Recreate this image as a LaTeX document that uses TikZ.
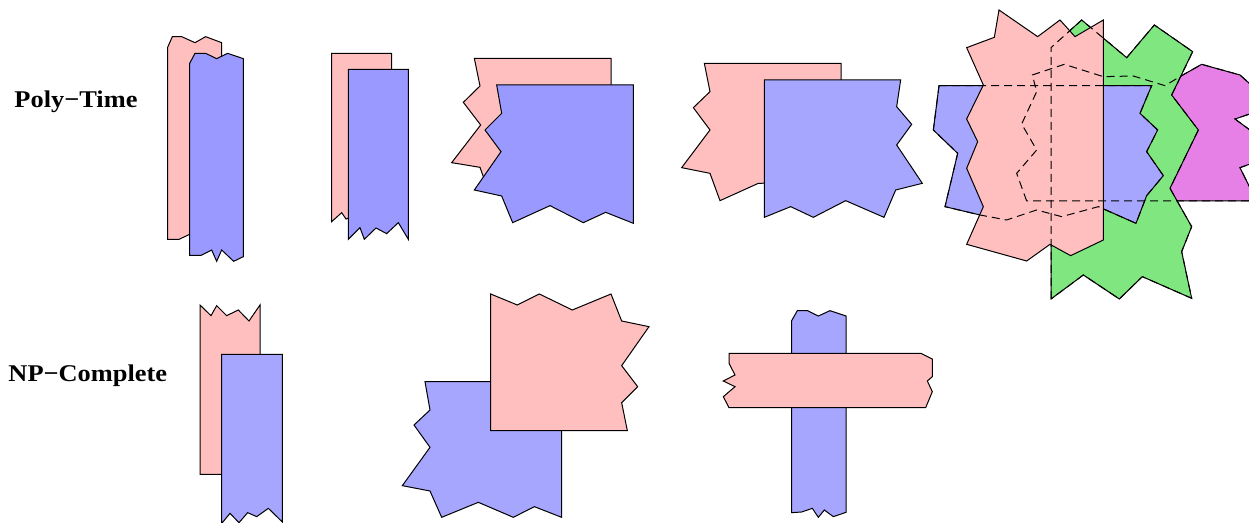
\documentclass[tikz,border=0pt]{standalone}
\usepackage{fontspec}
\setmainfont{Liberation Serif}
\definecolor{pinkc}{RGB}{255,191,191}
\definecolor{blueA}{RGB}{153,153,255}
\definecolor{blueB}{RGB}{166,166,255}
\definecolor{greenc}{RGB}{128,230,128}
\definecolor{magc}{RGB}{230,128,230}
\begin{document}
\begin{tikzpicture}[x=0.5pt,y=-0.5pt,
  shp/.style={draw=black,line width=0.5pt,line join=miter},
  pinkshape/.style={shp,fill=pinkc},
  blueshape/.style={shp,fill=blueA},
  blueshapeb/.style={shp,fill=blueB},
  greenshape/.style={shp,fill=greenc},
  magshape/.style={shp,fill=magc},
  hidden/.style={draw=black,line width=0.5pt,dash pattern=on 4pt off 2.5pt},
  lbl/.style={font=\bfseries\fontsize{12pt}{14pt}\selectfont,inner sep=0pt,anchor=west,xscale=1.1}]
\useasboundingbox (0,0) rectangle (1249,523);
\clip (0,0) rectangle (1249,523);
% labels
\node[lbl] (poly) at (14,102) {Poly−Time};
\node[lbl] (npc) at (8,376) {NP−Complete};
% row 1, group 1
\begin{scope}[shift={(155,30)},scale=1/3]
\draw[pinkshape] (38,52)--(52,20)--(80,20)--(120,38)--(152,20)--(200,38)--(200,600)--(102,614)--(72,628)--(38,628)--cycle;
\draw[blueshape] (104,100)--(120,70)--(152,70)--(185,86)--(218,70)--(265,86)--(265,680)--(236,694)--(200,660)--(185,694)--(170,660)--(138,676)--(104,676)--cycle;
\end{scope}
% row 1, group 2
\begin{scope}[shift={(320,45)},scale=1/3]
\draw[pinkshape] (35,25)--(215,25)--(215,518)--(90,518)--(78,522)--(65,503)--(35,530)--cycle;
\draw[blueshape] (85,73)--(265,73)--(265,583)--(235,533)--(200,566)--(168,549)--(133,583)--(120,548)--(85,583)--cycle;
\end{scope}
% row 1, group 3
\begin{scope}[shift={(440,50)},scale=1/3]
\draw[pinkshape] (103,25)--(513,25)--(513,400)--(140,400)--(130,380)--(120,352)--(35,338)--(122,225)--(70,157)--(120,108)--cycle;
\draw[blueshape] (170,105)--(580,105)--(580,520)--(497,487)--(430,518)--(330,467)--(218,518)--(185,438)--(103,420)--(183,305)--(135,240)--(185,190)--cycle;
\end{scope}
% row 1, group 4
\begin{scope}[shift={(670,55)},scale=1/3]
\draw[pinkshape] (103,25)--(513,25)--(513,380)--(265,385)--(150,437)--(120,355)--(35,338)--(120,225)--(70,158)--(120,110)--cycle;
\draw[blueshapeb] (283,75)--(692,75)--(680,155)--(725,208)--(680,270)--(757,385)--(677,405)--(642,487)--(527,437)--(430,487)--(362,455)--(283,487)--cycle;
\end{scope}
% row 1, group 5
\begin{scope}[shift={(925,5)},scale=1/3]
\def\magpath{(305,588)--(275,505)--(335,435)--(290,357)--(335,260)--(322,210)--(418,178)--(535,215)--(625,213)--(720,242)--(770,212)--(830,178)--(945,210)--(995,255)--(995,320)--(930,342)--(995,390)--(995,470)--(945,488)--(995,588)--cycle}
\def\greenpath{(378,882)--(378,128)--(470,45)--(605,158)--(688,60)--(803,140)--(740,270)--(820,375)--(735,550)--(800,665)--(770,740)--(800,880)--(652,815)--(583,882)--(475,810)--cycle}
\def\bluepath{(42,242)--(680,242)--(645,325)--(698,375)--(665,440)--(715,512)--(665,572)--(633,655)--(520,605)--(410,635)--(335,615)--(245,645)--(165,630)--(60,605)--(98,445)--(25,375)--cycle}
\draw[magshape] \magpath;
\draw[greenshape] \greenpath;
\draw[blueshapeb] \bluepath;
\draw[pinkshape] (222,15)--(338,95)--(405,45)--(450,95)--(535,45)--(535,705)--(437,752)--(375,718)--(305,768)--(125,718)--(175,605)--(125,490)--(158,410)--(125,342)--(175,240)--(125,128)--(208,97)--cycle;
\draw[hidden] \magpath;
\draw[hidden] \greenpath;
\draw[hidden] \bluepath;
\end{scope}
% row 2, group 1
\begin{scope}[shift={(185,295)},scale=1/3]
\draw[pinkshape] (45,30)--(78,62)--(95,32)--(125,62)--(160,45)--(192,78)--(225,30)--(225,538)--(45,538)--cycle;
\draw[blueshapeb] (110,178)--(292,178)--(292,681)--(250,640)--(215,665)--(188,653)--(162,683)--(135,655)--(112,683)--(110,683)--cycle;
\end{scope}
% row 2, group 2
\begin{scope}[shift={(395,285)},scale=1/3]
\draw[blueshapeb] (90,290)--(500,290)--(500,697)--(418,665)--(355,697)--(250,652)--(140,697)--(105,618)--(22,602)--(105,487)--(57,420)--(105,375)--cycle;
\draw[pinkshape] (287,27)--(367,60)--(433,27)--(532,75)--(648,27)--(680,108)--(762,125)--(680,242)--(728,305)--(680,353)--(697,437)--(287,437)--cycle;
\end{scope}
% row 2, group 3
\begin{scope}[shift={(710,300)},scale=1/3]
\draw[blueshapeb] (245,62)--(262,32)--(293,32)--(325,48)--(360,32)--(408,48)--(408,637)--(370,650)--(343,630)--(325,652)--(307,625)--(275,636)--(245,638)--cycle;
\draw[pinkshape] (57,160)--(633,160)--(667,177)--(667,230)--(652,243)--(667,275)--(647,323)--(57,323)--(40,290)--(75,260)--(40,243)--(75,225)--(57,190)--cycle;
\end{scope}
\end{tikzpicture}
\end{document}
